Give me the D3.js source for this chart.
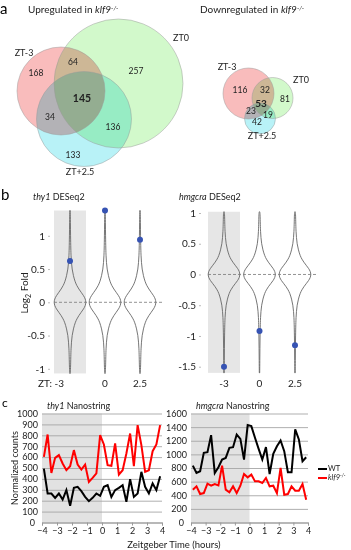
<!DOCTYPE html>
<html>
<head>
<meta charset="utf-8">
<script src="https://cdn.jsdelivr.net/npm/d3@7"></script>
<style>
  body { margin: 0; background: #fff; }
  svg { font-family: Lato, "Open Sans", sans-serif; }
</style>
</head>
<body>
<div id="fig"></div>
<script>
// ---- data ----
var vennRegions = ["ZT-3", "ZT-3/ZT0", "ZT0", "all", "ZT-3/ZT+2.5", "ZT0/ZT+2.5", "ZT+2.5"];
var upCounts = [168, 64, 257, 145, 34, 136, 133];
var downCounts = [116, 32, 81, 53, 23, 19, 42];
var vennSets = ["ZT-3", "ZT0", "ZT+2.5"];

var zeitpoints = ["-3", "0", "2.5"];
var thy1Fold = [0.62, 1.38, 0.94];
var hmgcraFold = [-1.5, -0.92, -1.15];
var thy1Range = [-1.07, 1.38];
var hmgcraRange = [-1.6, 1.02];
// relative violin width against distance from 0 (log2 units)
var violinProfile = [[0, 1], [0.05, 0.96], [0.1, 0.85], [0.15, 0.7], [0.2, 0.55],
  [0.25, 0.43], [0.3, 0.33], [0.4, 0.21], [0.5, 0.13], [0.6, 0.09], [0.7, 0.065],
  [0.8, 0.05], [1.0, 0.035], [1.2, 0.025], [1.4, 0.02], [1.7, 0.015]];

var hours = [-3.875, -3.625, -3.375, -3.125, -2.875, -2.625, -2.375, -2.125,
  -1.875, -1.625, -1.375, -1.125, -0.875, -0.625, -0.375, -0.125,
  0.125, 0.375, 0.625, 0.875, 1.125, 1.375, 1.625, 1.875,
  2.125, 2.375, 2.625, 2.875, 3.125, 3.375, 3.625, 3.875];
var thy1WT = [495, 266, 266, 226, 266, 211, 297, 153, 318, 327, 287, 235, 196, 226, 266, 245,
  327, 342, 235, 297, 318, 342, 190, 398, 235, 266, 465, 327, 266, 358, 297, 425];
var thy1KO = [602, 807, 455, 593, 618, 541, 480, 517, 664, 532, 486, 532, 373, 410, 450, 801,
  716, 526, 520, 725, 440, 480, 633, 816, 517, 893, 710, 465, 480, 654, 716, 893];
var hmgWT = [835, 727, 752, 1022, 1032, 1283, 727, 811, 924, 948, 1096, 1106, 1292, 1228, 924, 1430,
  1415, 1243, 1081, 924, 1106, 712, 1007, 1120, 1204, 1047, 737, 737, 1366, 1219, 899, 958];
var hmgKO = [482, 531, 418, 432, 570, 540, 565, 545, 835, 482, 442, 531, 432, 540, 712, 663,
  703, 604, 604, 580, 654, 531, 540, 432, 801, 408, 418, 531, 467, 467, 565, 334];
var hourTicks = [-4, -3, -2, -1, 0, 1, 2, 3, 4];

var svg = d3.select("#fig").append("svg").attr("width", 351).attr("height", 550);

function panelLetter(x, y, t, size) {
  svg.append("text").attr("x", x).attr("y", y).style("font-size", size + "px").text(t);
}

// italic gene + rest
function titleText(x, y, gene, rest, size) {
  var t = svg.append("text").attr("x", x).attr("y", y).style("font-size", size + "px");
  t.append("tspan").style("font-style", "italic").text(gene);
  t.append("tspan").text(rest);
  return t;
}
function klf9(sel) {
  sel.append("tspan").style("font-style", "italic").text("klf9");
  sel.append("tspan").style("font-style", "italic").attr("dy", -3).style("font-size", "0.65em").text("-/-");
}

// ---------------- a: Venn diagrams ----------------
panelLetter(0, 14, "a", 15);

var t1 = svg.append("text").attr("x", 28).attr("y", 13).style("font-size", "10px").attr("fill", "#222");
t1.append("tspan").text("Upregulated in ");
klf9(t1);
var t2 = svg.append("text").attr("x", 200).attr("y", 13).style("font-size", "10px").attr("fill", "#222");
t2.append("tspan").text("Downregulated in ");
klf9(t2);

var vennColors = ["#f9bcbc", "#d2f9cb", "#b8f2f7"];

function drawVenn(counts, layout) {
  var g = svg.append("g");
  g.selectAll("circle").data(vennSets).join("circle")
    .attr("cx", (d, i) => layout.circles[i][0])
    .attr("cy", (d, i) => layout.circles[i][1])
    .attr("r", (d, i) => layout.circles[i][2])
    .attr("fill", (d, i) => vennColors[i])
    .style("mix-blend-mode", "multiply");
  g.selectAll("circle.o").data(vennSets).join("circle").attr("class", "o")
    .attr("cx", (d, i) => layout.circles[i][0])
    .attr("cy", (d, i) => layout.circles[i][1])
    .attr("r", (d, i) => layout.circles[i][2])
    .attr("fill", "none").attr("stroke", "#999").attr("stroke-opacity", 0.6).attr("stroke-width", 0.8);
  g.selectAll("text.set").data(vennSets).join("text").attr("class", "set")
    .attr("x", (d, i) => layout.setLabels[i][0])
    .attr("y", (d, i) => layout.setLabels[i][1])
    .attr("text-anchor", "middle").style("font-size", "9px").attr("fill", "#222")
    .text(d => d);
  g.selectAll("text.n").data(counts).join("text").attr("class", "n")
    .attr("x", (d, i) => layout.regions[i][0])
    .attr("y", (d, i) => layout.regions[i][1])
    .attr("text-anchor", "middle").attr("dy", "0.35em")
    .style("font-size", (d, i) => vennRegions[i] === "all" ? layout.bold : "8.5px")
    .style("font-weight", (d, i) => vennRegions[i] === "all" ? "bold" : "normal")
    .attr("fill", "#222")
    .text(d => d);
}

drawVenn(upCounts, {
  circles: [[61, 91, 44], [118.5, 83.5, 64.5], [84, 119, 47.5]],
  setLabels: [[24, 56], [181, 41], [80, 175]],
  regions: [[36, 73], [73, 62], [136, 71], [82, 98], [50, 117], [113, 127], [73, 155]],
  bold: "10.5px"
});
drawVenn(downCounts, {
  circles: [[248.5, 93.5, 25.5], [272.5, 98, 20.5], [260, 118.5, 15.5]],
  setLabels: [[227, 70], [301, 83], [262, 139]],
  regions: [[240, 90], [265, 90], [285, 99], [261, 103], [251, 111], [268, 115], [257, 122]],
  bold: "10px"
});

// ---------------- b: violins ----------------
panelLetter(1, 200, "b", 15);

function violinPanel(opt) {
  var y = d3.scaleLinear().domain(opt.domain).range(opt.yRange);
  var x = d3.scalePoint().domain(zeitpoints).range(opt.xRange);
  var halfW = 16;
  var g = svg.append("g");

  // grey band around ZT-3
  g.append("rect")
    .attr("x", x(zeitpoints[0]) - halfW).attr("width", halfW * 2)
    .attr("y", y(opt.extent[1])).attr("height", y(opt.extent[0]) - y(opt.extent[1]))
    .attr("fill", "#e6e6e6");

  // violin outline from profile, clipped to extent
  var pts = [];
  violinProfile.slice().reverse().forEach(p => { if (p[0] <= opt.extent[1]) pts.push([p[0], p[1]]); });
  pts.unshift([opt.extent[1], 0.012]);
  violinProfile.forEach((p, i) => { if (i > 0 && p[0] <= -opt.extent[0]) pts.push([-p[0], p[1]]); });
  pts.push([opt.extent[0], 0.012]);

  var area = d3.area()
    .y(d => y(d[0]))
    .x0(d => -d[1] * halfW)
    .x1(d => d[1] * halfW)
    .curve(d3.curveBasis);

  zeitpoints.forEach(z => {
    g.append("path").datum(pts)
      .attr("transform", "translate(" + x(z) + ",0)")
      .attr("d", area)
      .attr("fill", "none").attr("stroke", "#666").attr("stroke-width", 0.9);
  });

  // zero line
  g.append("line")
    .attr("x1", opt.xRange[0] - halfW).attr("x2", opt.xRange[1] + halfW + 6)
    .attr("y1", y(0)).attr("y2", y(0))
    .attr("stroke", "#777").attr("stroke-width", 0.8).attr("stroke-dasharray", "3,2");

  // points
  g.selectAll("circle").data(opt.values).join("circle")
    .attr("cx", (d, i) => x(zeitpoints[i])).attr("cy", d => y(d))
    .attr("r", 3).attr("fill", "#3653b3");

  // y axis: labels and tiny ticks only
  var ax = g.append("g").attr("transform", "translate(" + opt.axisX + ",0)")
    .call(d3.axisLeft(y).tickValues(opt.ticks).tickSize(2).tickPadding(3)
      .tickFormat(d => String(d)));
  ax.select(".domain").remove();
  ax.selectAll(".tick line").attr("stroke", "#bbb");
  ax.selectAll(".tick text").style("font-size", "10px").attr("fill", "#222")
    .style("font-family", "Lato, sans-serif");

  // x labels
  g.selectAll("text.xl").data(zeitpoints).join("text").attr("class", "xl")
    .attr("x", (d, i) => x(d) + (i === 0 ? opt.firstShift : 0)).attr("y", 387)
    .attr("text-anchor", "middle").style("font-size", "10px").attr("fill", "#222")
    .text((d, i) => i === 0 ? opt.firstLabel + d : d);

  titleText(opt.titleX, 200, opt.gene, " DESeq2", 9).attr("fill", "#222");
}

violinPanel({
  domain: [-1, 1], yRange: [368.8, 235.8], xRange: [70, 140], extent: thy1Range,
  values: thy1Fold, ticks: [-1, -0.5, 0, 0.5, 1], axisX: 50,
  firstLabel: "ZT: ", firstShift: -19, gene: "thy1", titleX: 33
});
violinPanel({
  domain: [-1.5, 1], yRange: [366.7, 213], xRange: [224, 295], extent: hmgcraRange,
  values: hmgcraFold, ticks: [-1.5, -1, -0.5, 0, 0.5, 1], axisX: 201,
  firstLabel: "", firstShift: 0, gene: "hmgcra", titleX: 179
});

var yl = svg.append("text")
  .attr("transform", "translate(28,293) rotate(-90)")
  .attr("text-anchor", "middle").style("font-size", "10px").attr("fill", "#222");
yl.append("tspan").text("Log");
yl.append("tspan").attr("dy", 3).style("font-size", "7px").text("2");
yl.append("tspan").attr("dy", -3).text(" Fold");

// ---------------- c: Nanostring time courses ----------------
panelLetter(2, 407, "c", 12);

function linePanel(opt) {
  var x = d3.scaleLinear().domain([-4, 4]).range(opt.xRange);
  var y = d3.scaleLinear().domain([0, opt.max]).range([522.5, 413.5]);
  var g = svg.append("g");

  g.append("rect")
    .attr("x", x(-4)).attr("width", x(0) - x(-4))
    .attr("y", y(opt.max)).attr("height", y(0) - y(opt.max))
    .attr("fill", "#e2e2e2");

  var yAxis = g.append("g").attr("transform", "translate(" + x(-4) + ",0)")
    .call(d3.axisLeft(y).ticks(opt.max / opt.step).tickFormat(d3.format("d"))
      .tickSize(-(opt.xRange[1] - opt.xRange[0])).tickPadding(4));
  yAxis.select(".domain").remove();
  yAxis.selectAll(".tick line").attr("stroke", "#a6a6a6").attr("stroke-width", 0.9);
  yAxis.selectAll(".tick text").style("font-size", "9px").attr("fill", "#222")
    .style("font-family", "Lato, sans-serif");
  yAxis.selectAll(".tick").filter(d => d === 0).select("text").attr("x", -7);

  var xAxis = g.append("g").attr("transform", "translate(0," + y(0) + ")")
    .call(d3.axisBottom(x).tickValues(hourTicks).tickSize(3).tickPadding(2));
  xAxis.select(".domain").attr("stroke", "#999");
  xAxis.selectAll(".tick line").attr("stroke", "#999");
  xAxis.selectAll(".tick text").style("font-size", "9px").attr("fill", "#222")
    .style("font-family", "Lato, sans-serif");

  var line = d3.line().x((d, i) => x(hours[i])).y(d => y(d));
  g.append("path").datum(opt.ko).attr("d", line)
    .attr("fill", "none").attr("stroke", "#ff0000").attr("stroke-width", 2);
  g.append("path").datum(opt.wt).attr("d", line)
    .attr("fill", "none").attr("stroke", "#000").attr("stroke-width", 2);

  titleText(opt.xRange[0] + 5, 409, opt.gene, " Nanostring", 9).attr("fill", "#222");
}

linePanel({ xRange: [42, 162], max: 1000, step: 100, wt: thy1WT, ko: thy1KO, gene: "thy1" });
linePanel({ xRange: [191, 308], max: 1600, step: 200, wt: hmgWT, ko: hmgKO, gene: "hmgcra" });

svg.append("text")
  .attr("transform", "translate(18,468) rotate(-90)")
  .attr("text-anchor", "middle").style("font-size", "9px").attr("fill", "#222")
  .text("Normalized counts");
svg.append("text")
  .attr("x", 174).attr("y", 548)
  .attr("text-anchor", "middle").style("font-size", "9.5px").attr("fill", "#222")
  .text("Zeitgeber Time (hours)");

// legend
var legend = [{ label: "WT", color: "#000" }, { label: "klf9", color: "#ff0000" }];
legend.forEach((d, i) => {
  var yy = 469 + i * 9;
  svg.append("line").attr("x1", 318).attr("x2", 327).attr("y1", yy).attr("y2", yy)
    .attr("stroke", d.color).attr("stroke-width", 2);
  var t = svg.append("text").attr("x", 328).attr("y", yy + 2).style("font-size", "7.5px").attr("fill", "#222");
  if (i === 0) t.text(d.label); else klf9(t);
});
</script>
</body>
</html>
